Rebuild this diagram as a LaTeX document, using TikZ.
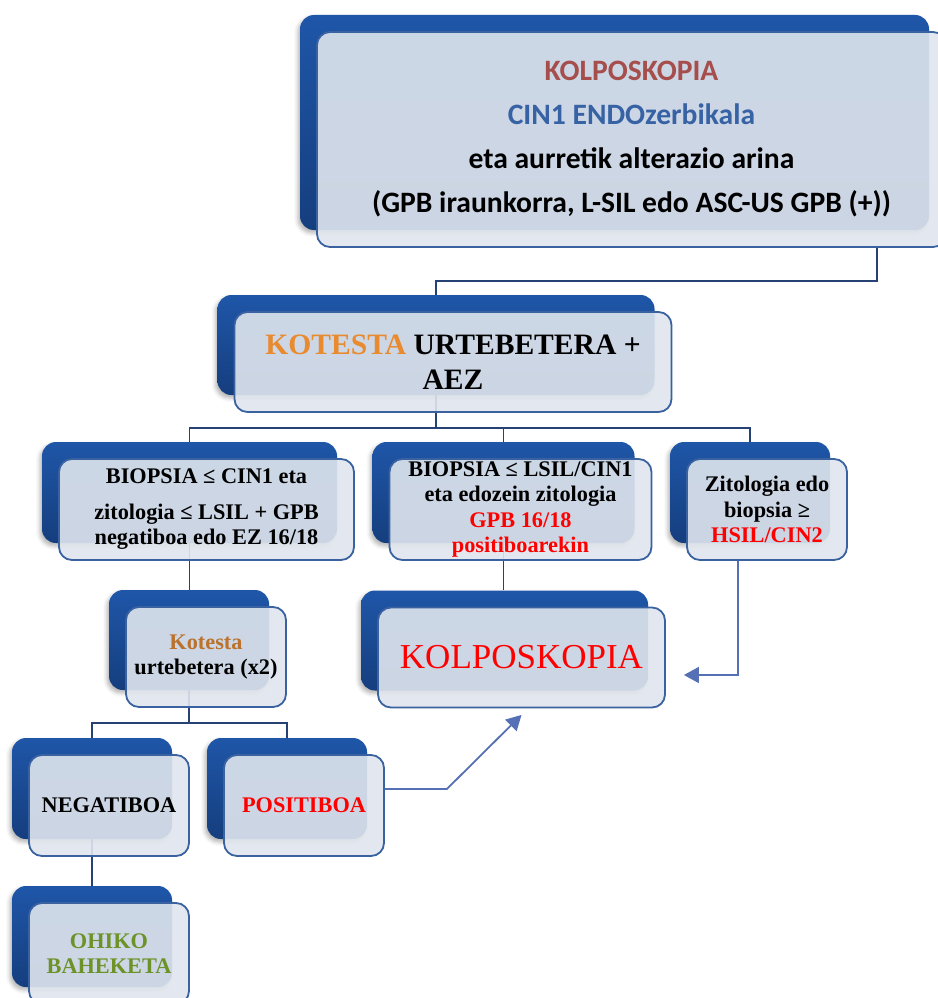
\documentclass[tikz,border=0pt]{standalone}
\usepackage{fontspec}
\setmainfont{Liberation Serif}
\newfontfamily\calib{Carlito}
\usetikzlibrary{arrows.meta,shadows.blur}

\definecolor{deepblue}{RGB}{31,86,168}
\definecolor{deepblueB}{RGB}{21,62,126}
\definecolor{panelfill}{RGB}{224,230,238}
\definecolor{panelrim}{RGB}{58,97,160}
\definecolor{linknavy}{RGB}{38,66,116}
\definecolor{arrowblue}{RGB}{86,112,182}
\definecolor{rosebrown}{RGB}{166,78,76}
\definecolor{steelblue}{RGB}{55,98,164}
\definecolor{kotorange}{RGB}{233,138,46}
\definecolor{kotbrown}{RGB}{186,114,44}
\definecolor{olivegreen}{RGB}{108,146,40}

\pgfdeclarelayer{links}
\pgfsetlayers{links,main}

\tikzset{
  backbox/.style={rounded corners=14pt, top color=deepblue, bottom color=deepblueB,
    draw=none, inner sep=0pt,
    blur shadow={shadow xshift=-2pt, shadow yshift=-3pt, shadow blur radius=4pt, shadow opacity=30}},
  frontbox/.style={rounded corners=13pt, fill=panelfill, fill opacity=0.9, text opacity=1,
    draw=panelrim, line width=1.8pt, align=center, inner sep=0pt},
  link/.style={draw=linknavy, line width=1.6pt},
  pointer/.style={draw=arrowblue, line width=1.8pt, -{Triangle[length=15pt,width=16pt]}},
  rowtext/.style={font=\bfseries\fontsize{22.3}{25.5}\selectfont}
}

% name, centre x, centre y, width, height, text (front panel); the dark panel sits up-left
\newcommand\pairbox[7][]{%
  \node[backbox, minimum width=#5pt, minimum height=#6pt] (#2b) at (#3-17,#4-17) {};
  \node[frontbox, minimum width=#5pt, minimum height=#6pt, #1] (#2) at (#3,#4) {#7};
}

\begin{document}
\begin{tikzpicture}[x=1pt,y=-1pt]
\path[use as bounding box] (0,0) rectangle (937,998);

\pairbox[font=\calib\bfseries\fontsize{29.6}{44}\selectfont]{top}{631.5}{139.5}{629}{215}{%
  \textcolor{rosebrown}{KOLPOSKOPIA}\\
  \textcolor{steelblue}{CIN1 ENDOzerbikala}\\
  eta aurretik alterazio arina\\
  (GPB iraunkorra, L-SIL edo ASC-US GPB (+))}

\pairbox[font=\bfseries\fontsize{29.6}{35}\selectfont]{kot}{453}{362}{437}{100}{%
  \textcolor{kotorange}{KOTESTA} URTEBETERA +\\ AEZ}

\pairbox[rowtext]{bioA}{206.5}{509.5}{295}{101}{%
  BIOPSIA ≤ CIN1 eta\\[10pt]
  zitologia ≤ LSIL + GPB\\
  negatiboa edo EZ 16/18}

\pairbox[rowtext]{bioB}{520.5}{509.5}{262}{101}{%
  BIOPSIA ≤ LSIL/CIN1\\
  eta edozein zitologia\\
  \textcolor{red}{GPB 16/18}\\
  \textcolor{red}{positiboarekin}}

\pairbox[rowtext]{zit}{767}{509.5}{160}{101}{%
  Zitologia edo\\
  biopsia ≥\\
  \textcolor{red}{HSIL/CIN2}}

\pairbox[rowtext]{kot2}{206}{657}{160}{100}{%
  \textcolor{kotbrown}{Kotesta}\\
  urtebetera (x2)}

\pairbox[font=\fontsize{35}{40}\selectfont]{kolp}{521.5}{657.5}{287}{100}{%
  \textcolor{red}{KOLPOSKOPIA}}

\pairbox[rowtext]{neg}{109}{805.5}{160}{101}{NEGATIBOA}

\pairbox[rowtext]{pos}{304}{805.5}{160}{101}{\textcolor{red}{POSITIBOA}}

\pairbox[rowtext]{ohiko}{109}{953.5}{160}{101}{%
  \textcolor{olivegreen}{OHIKO}\\
  \textcolor{olivegreen}{BAHEKETA}}

% tree connectors, kept behind the panels
\begin{pgfonlayer}{links}
  \draw[link] ([xshift=-70pt]top.south east) -- ++(0,33) -| (kotb.north);
  \draw[link] (kotb.south) -- ++(0,33) -| (bioAb.north);
  \draw[link] (kotb.south) -- ++(0,33) -| (bioBb.north);
  \draw[link] (kotb.south) -- ++(0,33) -| (zitb.north);
  \draw[link] (bioAb.south) -- (bioAb.south |- kot2b.north);
  \draw[link] (bioBb.south) -- (bioBb.south |- kolpb.north);
  \draw[link] (kot2b.south) -- ++(0,33) -| (negb.north);
  \draw[link] (kot2b.south) -- ++(0,33) -| (posb.north);
  \draw[link] (negb.south) -- (ohikob.north);
\end{pgfonlayer}

% arrows into the colposcopy panel
\draw[pointer] ([xshift=-29pt]zit.south) |- ([xshift=18pt,yshift=-17.5pt]kolp.east);
\draw[pointer] ([yshift=16.5pt]pos.east) -- ++(62,0) -- ([yshift=-6.5pt]kolp.south);

\end{tikzpicture}
\end{document}
